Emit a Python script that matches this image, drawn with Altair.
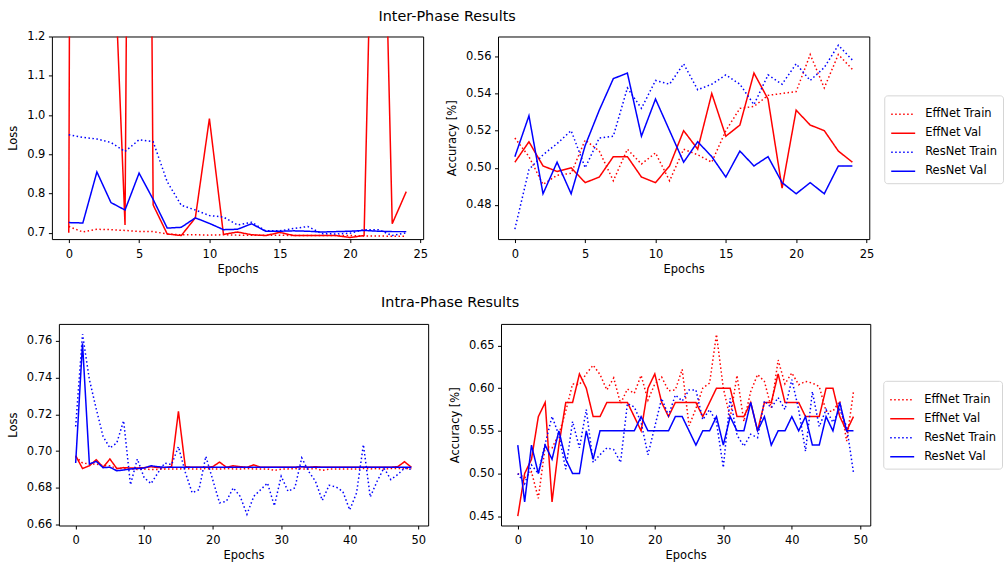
import altair as alt
import pandas as pd

series_names = ["EffNet Train", "EffNet Val", "ResNet Train", "ResNet Val"]
series_colors = ["#ff0000", "#ff0000", "#0000ff", "#0000ff"]

# ---------------- Inter-Phase (25 epochs) ----------------
inter_loss_eff_train = [0.716, 0.702, 0.709, 0.708, 0.706, 0.7035, 0.703, 0.697, 0.695, 0.695, 0.694, 0.695,
                        0.694, 0.694, 0.694, 0.694, 0.693, 0.693, 0.693, 0.693, 0.693, 0.692, 0.692, 0.691, 0.691]
inter_loss_eff_val = [0.700, 12.0, 8.0, 1.62, 0.720, 6.0, 0.771, 0.697, 0.693, 0.738, 0.991, 0.696,
                      0.702, 0.695, 0.693, 0.701, 0.693, 0.693, 0.693, 0.693, 0.688, 0.693, 2.26, 0.723, 0.805]
inter_loss_res_train = [0.950, 0.943, 0.939, 0.930, 0.907, 0.937, 0.932, 0.830, 0.770, 0.758, 0.744, 0.740,
                        0.720, 0.727, 0.705, 0.705, 0.711, 0.716, 0.698, 0.697, 0.699, 0.708, 0.708, 0.693, 0.700]
inter_loss_res_val = [0.726, 0.725, 0.855, 0.777, 0.758, 0.852, 0.785, 0.712, 0.714, 0.738, 0.724, 0.708,
                      0.709, 0.723, 0.704, 0.704, 0.705, 0.704, 0.702, 0.703, 0.704, 0.706, 0.704, 0.703, 0.703]

inter_acc_eff_train = [0.516, 0.506, 0.491, 0.496, 0.497, 0.515, 0.509, 0.493, 0.510, 0.502, 0.508, 0.493,
                       0.510, 0.507, 0.503, 0.520, 0.532, 0.533, 0.539, 0.540, 0.541, 0.561, 0.543, 0.561, 0.553]
inter_acc_eff_val = [0.503, 0.514, 0.501, 0.498, 0.500, 0.492, 0.495, 0.506, 0.506, 0.495, 0.492, 0.501,
                     0.520, 0.510, 0.540, 0.517, 0.523, 0.551, 0.537, 0.489, 0.531, 0.523, 0.520, 0.509, 0.503]
inter_acc_res_train = [0.467, 0.499, 0.507, 0.513, 0.520, 0.500, 0.516, 0.517, 0.543, 0.532, 0.547, 0.545,
                       0.556, 0.542, 0.545, 0.550, 0.545, 0.534, 0.550, 0.545, 0.556, 0.547, 0.554, 0.566, 0.558]
inter_acc_res_val = [0.506, 0.528, 0.486, 0.503, 0.486, 0.512, 0.531, 0.548, 0.551, 0.517, 0.537, 0.520,
                     0.503, 0.514, 0.506, 0.495, 0.509, 0.501, 0.506, 0.492, 0.486, 0.492, 0.486, 0.501, 0.501]

# ---------------- Intra-Phase (50 epochs) ----------------
intra_loss_eff_train = [0.697, 0.6935, 0.693, 0.693, 0.692, 0.692, 0.6905, 0.6905, 0.6903, 0.690, 0.6902, 0.690,
                        0.690, 0.6902, 0.6903, 0.6902, 0.6905, 0.6903, 0.6902, 0.6905, 0.6903, 0.6902, 0.6905,
                        0.6903, 0.6902, 0.6905, 0.6903, 0.6902, 0.6903, 0.6895, 0.6902, 0.6903, 0.6905, 0.6903,
                        0.6902, 0.6905, 0.6895, 0.6902, 0.6903, 0.6902, 0.6903, 0.6902, 0.6905, 0.6903, 0.6905,
                        0.6902, 0.6905, 0.6905, 0.6905, 0.6905]
intra_loss_eff_val = [0.6975, 0.6905, 0.692, 0.6953, 0.6912, 0.6957, 0.6905, 0.691, 0.6908, 0.6908, 0.691, 0.6915,
                      0.691, 0.691, 0.6915, 0.7216, 0.6915, 0.6912, 0.6912, 0.6912, 0.6915, 0.694, 0.6912, 0.692,
                      0.6915, 0.6912, 0.6925, 0.6912, 0.6912, 0.6912, 0.6912, 0.6912, 0.6912, 0.6915, 0.6912,
                      0.6915, 0.6912, 0.6912, 0.6912, 0.6912, 0.6912, 0.6912, 0.6912, 0.6912, 0.6912, 0.6912,
                      0.6912, 0.6915, 0.6942, 0.6912]
intra_loss_res_train = [0.7134, 0.7636, 0.739, 0.723, 0.708, 0.7017, 0.7044, 0.7165, 0.6817, 0.6957, 0.6855,
                        0.6823, 0.6881, 0.6935, 0.6926, 0.7024, 0.6885, 0.6773, 0.679, 0.6971, 0.6845, 0.6718,
                        0.6727, 0.680, 0.6754, 0.6656, 0.6754, 0.679, 0.6826, 0.6702, 0.6863, 0.6781, 0.680,
                        0.6963, 0.689, 0.6836, 0.6732, 0.6814, 0.6805, 0.678, 0.6680, 0.6772, 0.7035, 0.675,
                        0.6836, 0.6908, 0.6845, 0.6872, 0.6908, 0.690]
intra_loss_res_val = [0.6935, 0.7587, 0.693, 0.6944, 0.691, 0.6912, 0.6893, 0.6897, 0.6903, 0.6905, 0.6908, 0.692,
                      0.6915, 0.6912, 0.6912, 0.6912, 0.6912, 0.6912, 0.6912, 0.6912, 0.6912, 0.6912, 0.6912,
                      0.6912, 0.6912, 0.6912, 0.6912, 0.6912, 0.6912, 0.6912, 0.6912, 0.6912, 0.6912, 0.6915,
                      0.6912, 0.6912, 0.6912, 0.6912, 0.6912, 0.6912, 0.6912, 0.6912, 0.6912, 0.6912, 0.6912,
                      0.6912, 0.6912, 0.6912, 0.6912, 0.6912]

intra_acc_eff_train = [0.500, 0.495, 0.502, 0.471, 0.532, 0.530, 0.546, 0.573, 0.605, 0.604, 0.617, 0.627, 0.616,
                       0.598, 0.612, 0.582, 0.599, 0.594, 0.615, 0.586, 0.605, 0.613, 0.597, 0.598, 0.622, 0.556,
                       0.576, 0.600, 0.606, 0.663, 0.600, 0.565, 0.615, 0.561, 0.596, 0.616, 0.608, 0.577, 0.633,
                       0.605, 0.618, 0.604, 0.608, 0.606, 0.602, 0.573, 0.573, 0.585, 0.538, 0.596]
intra_acc_eff_val = [0.45, 0.5, 0.5167, 0.5667, 0.5833, 0.4667, 0.5333, 0.5833, 0.5833, 0.6167, 0.6, 0.5667,
                     0.5667, 0.5833, 0.5833, 0.5833, 0.5833, 0.5667, 0.55, 0.6, 0.6167, 0.5833, 0.5667, 0.5833,
                     0.5833, 0.5833, 0.5833, 0.5667, 0.5833, 0.6, 0.6, 0.6, 0.5667, 0.5667, 0.5833, 0.55, 0.5833,
                     0.5833, 0.6167, 0.5833, 0.5833, 0.5833, 0.5667, 0.5667, 0.5667, 0.6, 0.6, 0.5667, 0.55, 0.5667]
intra_acc_res_train = [0.500, 0.488, 0.510, 0.500, 0.535, 0.567, 0.545, 0.505, 0.561, 0.530, 0.575, 0.513, 0.522,
                       0.530, 0.528, 0.513, 0.582, 0.578, 0.560, 0.522, 0.555, 0.588, 0.568, 0.592, 0.585, 0.598,
                       0.598, 0.563, 0.575, 0.560, 0.507, 0.588, 0.545, 0.532, 0.546, 0.542, 0.585, 0.577, 0.589,
                       0.575, 0.610, 0.575, 0.526, 0.596, 0.555, 0.575, 0.560, 0.575, 0.555, 0.501]
intra_acc_res_val = [0.5333, 0.4667, 0.5333, 0.5, 0.5333, 0.5167, 0.55, 0.5167, 0.5, 0.5, 0.55, 0.5167, 0.55,
                     0.55, 0.55, 0.55, 0.55, 0.55, 0.5667, 0.55, 0.55, 0.55, 0.55, 0.5667, 0.5667, 0.55, 0.5333,
                     0.55, 0.55, 0.5667, 0.5333, 0.5667, 0.55, 0.55, 0.5833, 0.55, 0.5667, 0.5333, 0.55, 0.55,
                     0.5667, 0.55, 0.5667, 0.5333, 0.5333, 0.5667, 0.55, 0.5833, 0.55, 0.55]

inter_x_ticks = [0, 5, 10, 15, 20, 25]
intra_x_ticks = [0, 10, 20, 30, 40, 50]
inter_loss_ticks = [0.7, 0.8, 0.9, 1.0, 1.1, 1.2]
inter_acc_ticks = [0.48, 0.50, 0.52, 0.54, 0.56]
intra_loss_ticks = [0.66, 0.68, 0.70, 0.72, 0.74, 0.76]
intra_acc_ticks = [0.45, 0.50, 0.55, 0.60, 0.65]


def make_df(lists):
    rows = []
    for name, vals in zip(series_names, lists):
        for i, v in enumerate(vals):
            rows.append({"epoch": i, "value": v, "series": name})
    return pd.DataFrame(rows)


def panel(lists, ytitle, ydom, yticks, yfmt, xdom, xticks, w, h, legend=None, title=None):
    df = make_df(lists)
    color_scale = alt.Scale(domain=series_names, range=series_colors)
    dash_scale = alt.Scale(domain=series_names, range=[[1.5, 2.5], [1, 0], [1.5, 2.5], [1, 0]])
    props = dict(width=w, height=h)
    if title is not None:
        props["title"] = title
    return alt.Chart(df).mark_line(clip=True, strokeWidth=1.5).encode(
        x=alt.X("epoch:Q", scale=alt.Scale(domain=xdom, nice=False, zero=False),
                axis=alt.Axis(values=xticks, format="d", title="Epochs")),
        y=alt.Y("value:Q", scale=alt.Scale(domain=ydom, nice=False, zero=False),
                axis=alt.Axis(values=yticks, format=yfmt, title=ytitle)),
        color=alt.Color("series:N", scale=color_scale, legend=legend),
        strokeDash=alt.StrokeDash("series:N", scale=dash_scale, legend=legend),
        order=alt.Order("epoch:Q"),
    ).properties(**props)


def legend_at(lx, ly):
    return alt.Legend(title=None, orient="none", legendX=lx, legendY=ly, symbolType="stroke",
                      symbolSize=576, symbolStrokeWidth=1.5, labelFontSize=11.5, labelFont="DejaVu Sans",
                      labelColor="black", fillColor="white", strokeColor="#d5d5d5", cornerRadius=3,
                      padding=6, rowPadding=0, labelOffset=9)


p11 = panel([inter_loss_eff_train, inter_loss_eff_val, inter_loss_res_train, inter_loss_res_val],
            "Loss", [0.684, 1.2], inter_loss_ticks, ".1f", [-1.2, 25.2], inter_x_ticks, 372, 203,
            title=alt.TitleParams("Inter-Phase Results", anchor="middle", dx=210, offset=6, frame="group"))
p12 = panel([inter_acc_eff_train, inter_acc_eff_val, inter_acc_res_train, inter_acc_res_val],
            "Accuracy [%]", [0.4616, 0.5707], inter_acc_ticks, ".2f", [-1.2, 25.2], inter_x_ticks, 372, 203,
            legend=legend_at(387, 59))
p21 = panel([intra_loss_eff_train, intra_loss_eff_val, intra_loss_res_train, intra_loss_res_val],
            "Loss", [0.6595, 0.7692], intra_loss_ticks, ".2f", [-2.45, 51.45], intra_x_ticks, 370, 202,
            title=alt.TitleParams("Intra-Phase Results", anchor="middle", dx=207, offset=14, frame="group"))
p22 = panel([intra_acc_eff_train, intra_acc_eff_val, intra_acc_res_train, intra_acc_res_val],
            "Accuracy [%]", [0.4391, 0.6753], intra_acc_ticks, ".2f", [-2.45, 51.45], intra_x_ticks, 370, 202,
            legend=legend_at(383, 57))


def spacer(w):
    return alt.Chart(pd.DataFrame({"v": [0]})).mark_point(opacity=0, size=1).encode(
        x=alt.value(0), y=alt.value(0)).properties(width=w, height=1, view=alt.ViewBackground(stroke=None))


row1 = alt.hconcat(spacer(1), p11, spacer(75), p12, spacing=0, bounds="flush").resolve_scale(
    color="independent", strokeDash="independent")
row2 = alt.hconcat(spacer(8), p21, spacer(73), p22, spacing=0, bounds="flush").resolve_scale(
    color="independent", strokeDash="independent")

chart = alt.vconcat(row1, row2, spacing=18).resolve_scale(
    color="independent", strokeDash="independent"
).properties(
    padding={"left": 6, "top": 8, "right": 0, "bottom": 0}, background="white"
).configure_view(stroke="black", strokeWidth=1).configure_axis(
    domain=False, grid=False, tickColor="black", tickSize=3.5, tickWidth=1,
    labelColor="black", titleColor="black", labelFont="DejaVu Sans", titleFont="DejaVu Sans",
    labelFontSize=11.5, titleFontSize=11.5, titleFontWeight="normal", labelPadding=3.5,
    labelFlush=False, labelOverlap=False
).configure_axisY(titlePadding=8).configure_axisX(titlePadding=4, labelPadding=5.5).configure_title(
    font="DejaVu Sans", fontSize=14.4, fontWeight="normal", color="black"
)

chart.save("out.html", embed_options={"renderer": "svg", "actions": False})
